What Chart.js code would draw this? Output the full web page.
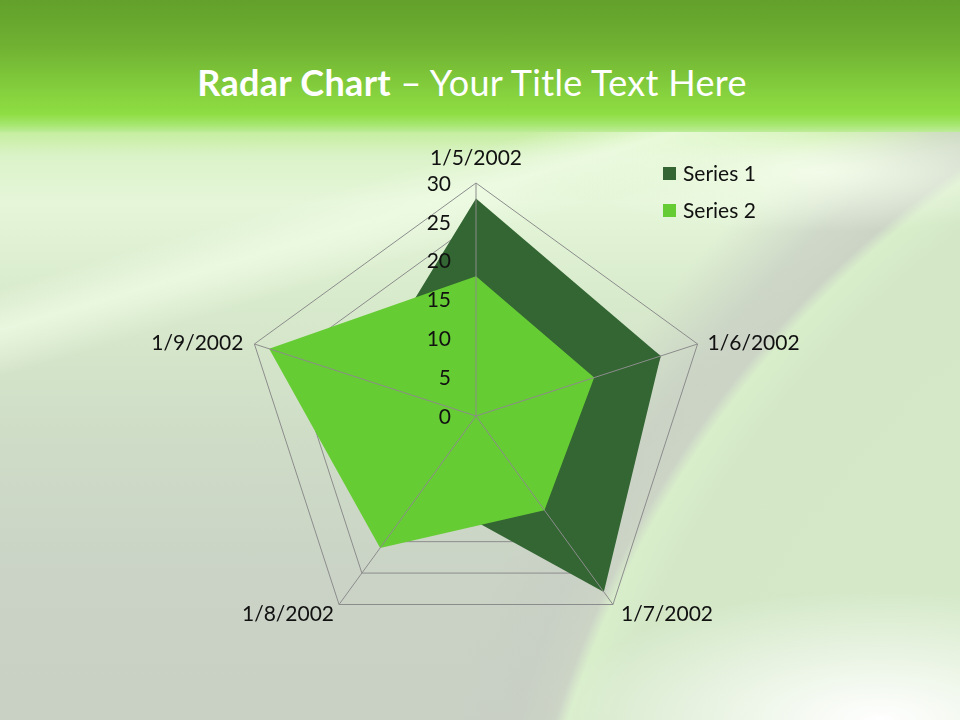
<!DOCTYPE html>
<html>
<head>
<meta charset="utf-8">
<script src="https://cdn.jsdelivr.net/npm/chart.js@4/dist/chart.umd.min.js"></script>
<style>
  html, body { margin: 0; padding: 0; }
  #slide {
    position: relative; width: 960px; height: 720px; overflow: hidden;
    font-family: Lato, "Open Sans", sans-serif;
  }
  #header {
    position: absolute; left: 0; top: 0; width: 960px; height: 132px;
    background: linear-gradient(180deg, #62a02b 0%, #70b132 35%, #84cf3d 68%, #8edd43 86%, #a4e66c 94%, #bdec98 100%);
  }
  #header h1 {
    margin: 0; position: absolute; left: 0; width: 944px; top: 60px;
    text-align: center; color: #fff; font-size: 36px; font-weight: 400; line-height: 44px;
    letter-spacing: 0.3px;
  }
  #header h1 b { font-weight: 700; }
  #body {
    position: absolute; left: 0; top: 132px; width: 960px; height: 588px;
    background:
      linear-gradient(163.7deg, rgba(240,252,230,0) 150px, rgba(240,252,230,0.75) 190px, rgba(240,252,230,0) 235px),
      radial-gradient(ellipse 330px 130px at 880px 588px, rgba(255,255,255,1), rgba(255,255,255,0)),
      radial-gradient(ellipse 260px 60px at 820px 40px, rgba(245,253,236,0.9), rgba(245,253,236,0)),
      radial-gradient(circle at 1560px 900px, rgba(214,236,200,1) 0px, rgba(212,232,200,1) 1000px, rgba(216,238,202,1) 1040px, rgba(204,212,198,1) 1052px, rgba(200,206,196,0.7) 1090px, rgba(200,206,196,0) 1160px),
      linear-gradient(180deg, #c6ee9f 0px, #dbf3c9 25px, #e5f6d9 70px, #d8eacc 170px, #cfddc7 300px, #cad3c6 450px, #c9d0c4 588px);
  }
  #wrap { position: absolute; left: 0; top: 0; width: 960px; height: 720px; }
  #legend { position: absolute; left: 663px; top: 160px; font-size: 21px; color: #111; }
  #legend div { height: 37px; display: flex; align-items: flex-start; }
  #legend span.box { display: inline-block; width: 13px; height: 13px; margin: 7px 7px 0 0; }
</style>
</head>
<body>
<div id="slide">
  <div id="header"><h1><b>Radar Chart</b> – Your Title Text Here</h1></div>
  <div id="body"></div>
  <div id="wrap"><canvas id="radar"></canvas></div>
  <div id="legend"></div>
</div>
<script>
// ===== DATA =====
const categories = ['1/5/2002', '1/6/2002', '1/7/2002', '1/8/2002', '1/9/2002'];
const seriesNames = ['Series 1', 'Series 2'];
const series1 = [28, 25, 28, 12, 15];
const series2 = [18, 16, 15, 21, 28];
const tickValues = [0, 5, 10, 15, 20, 25, 30];
const seriesColors = ['#336633', '#66cc33'];

const gridColor = '#8c8c8c';
const labelFont = '21px Lato, "Open Sans", sans-serif';

// ===== LEGEND (html) =====
const legendEl = document.getElementById('legend');
legendEl.innerHTML = seriesNames.map((name, i) =>
  `<div><span class="box" style="background:${seriesColors[i]}"></span>${name}</div>`
).join('');

// angle lines, tick labels and category labels go above the filled areas
const overlayPlugin = {
  id: 'overlay',
  afterDatasetsDraw(chart) {
    const scale = chart.scales.r;
    const ctx = chart.ctx;
    ctx.save();
    ctx.strokeStyle = gridColor;
    ctx.lineWidth = 1;
    categories.forEach((c, i) => {
      const p = scale.getPointPositionForValue(i, scale.max);
      ctx.beginPath();
      ctx.moveTo(scale.xCenter, scale.yCenter);
      ctx.lineTo(p.x, p.y);
      ctx.stroke();
    });

    ctx.font = labelFont;
    ctx.fillStyle = '#111';
    ctx.textAlign = 'right';
    ctx.textBaseline = 'middle';
    scale.ticks.forEach(t => {
      const p = scale.getPointPositionForValue(0, t.value);
      ctx.fillText(String(t.value), p.x - 25, p.y + 1);
    });

    ctx.textBaseline = 'alphabetic';
    categories.forEach((c, i) => {
      const p = scale.getPointPositionForValue(i, scale.max);
      const a = scale.getIndexAngle(i);
      const s = Math.sin(a), co = Math.cos(a);
      let x = p.x, y = p.y;
      if (Math.abs(s) < 0.1) {
        ctx.textAlign = 'center';
        y -= 18;
      } else if (co > 0) { // upper side labels
        ctx.textAlign = s > 0 ? 'left' : 'right';
        x += s > 0 ? 10 : -11;
        y += 6;
      } else { // lower labels
        ctx.textAlign = s > 0 ? 'left' : 'right';
        x += s > 0 ? 8 : -5;
        y += 16;
      }
      ctx.fillText(c, x, y);
    });
    ctx.restore();
  }
};

new Chart(document.getElementById('radar'), {
  type: 'radar',
  data: {
    labels: categories,
    datasets: [
      { label: seriesNames[0], data: series1, backgroundColor: seriesColors[0], borderWidth: 0, pointRadius: 0, fill: true, order: 1 },
      { label: seriesNames[1], data: series2, backgroundColor: seriesColors[1], borderWidth: 0, pointRadius: 0, fill: true, order: 0 }
    ]
  },
  options: {
    responsive: true,
    maintainAspectRatio: false,
    animation: false,
    layout: { padding: { top: 183, bottom: 71, left: 200, right: 208 } },
    plugins: { legend: { display: false }, tooltip: { enabled: false } },
    elements: { line: { tension: 0 } },
    scales: {
      r: {
        min: tickValues[0],
        max: tickValues[tickValues.length - 1],
        ticks: { stepSize: 5, display: false },
        grid: { color: gridColor, lineWidth: 1, circular: false },
        angleLines: { display: false },
        pointLabels: { display: false }
      }
    }
  },
  plugins: [overlayPlugin]
});
</script>
</body>
</html>
